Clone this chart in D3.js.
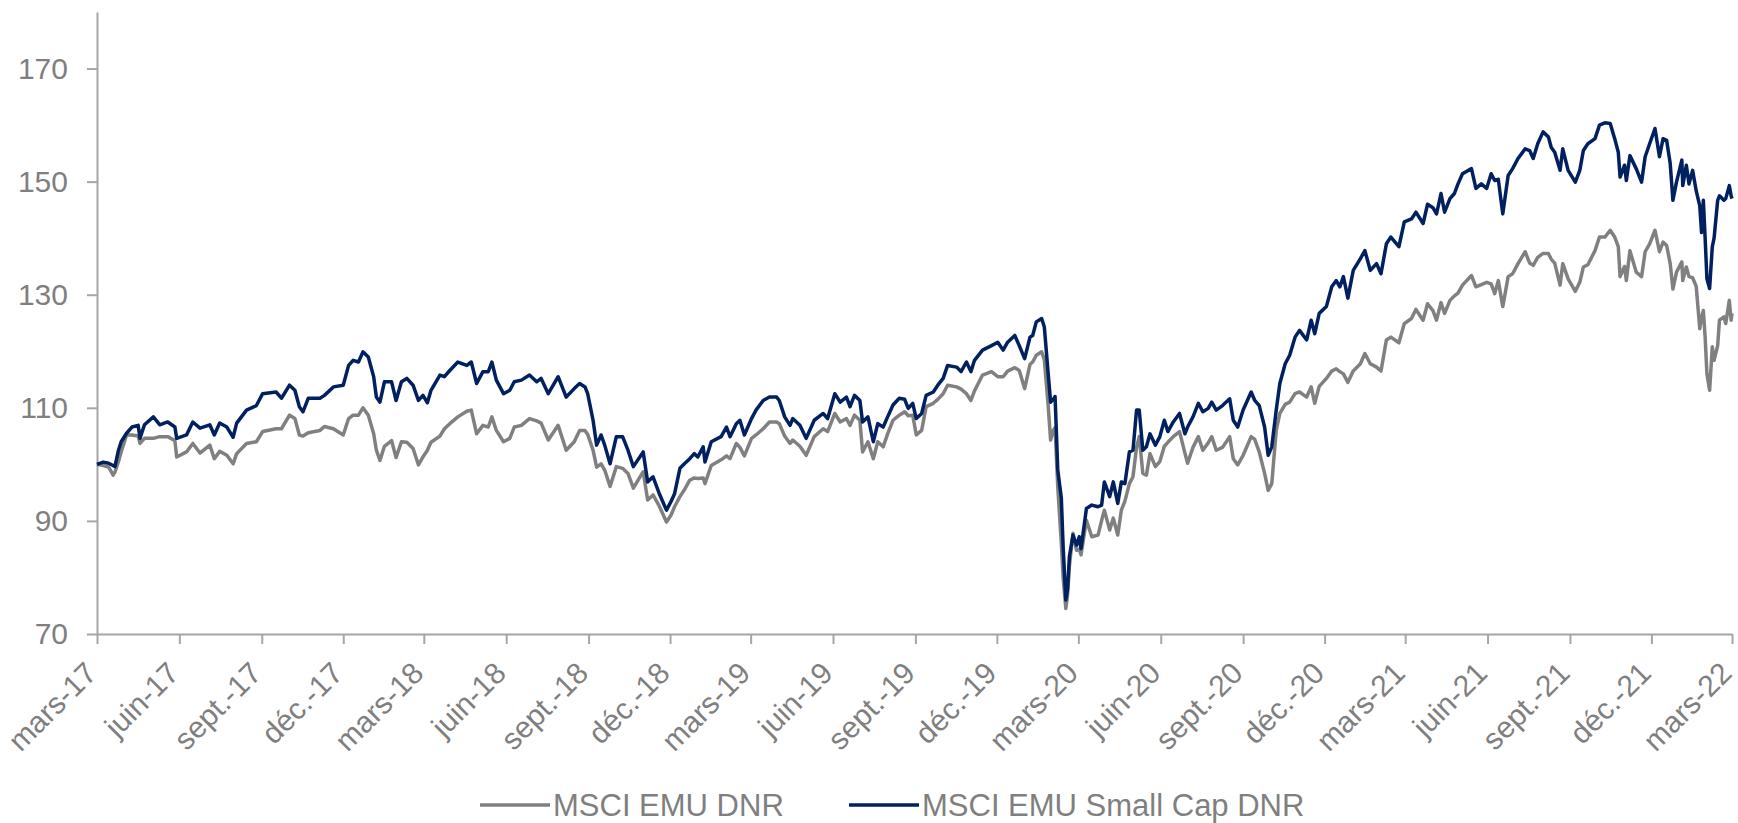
<!DOCTYPE html>
<html>
<head>
<meta charset="utf-8">
<script src="https://cdn.jsdelivr.net/npm/d3@7"></script>
<style>
  body { margin: 0; background: #fff; }
  svg { display: block; }
  text { font-family: "Liberation Sans", Arial, sans-serif; }
</style>
</head>
<body>
<svg id="chart" width="1738" height="823"></svg>
<script>
// dates of the points
const dates = [
  "2017-03-01","2017-03-08","2017-03-14","2017-03-19","2017-03-21","2017-03-25","2017-03-28","2017-04-03","2017-04-09","2017-04-16",
  "2017-04-18","2017-04-23","2017-05-03","2017-05-10","2017-05-19","2017-05-27","2017-05-29","2017-06-09","2017-06-16","2017-06-24",
  "2017-07-05","2017-07-10","2017-07-16","2017-07-24","2017-07-31","2017-08-04","2017-08-15","2017-08-26","2017-09-02","2017-09-17",
  "2017-09-23","2017-10-02","2017-10-08","2017-10-13","2017-10-17","2017-10-23","2017-11-05","2017-11-10","2017-11-20","2017-12-01",
  "2017-12-07","2017-12-12","2017-12-18","2017-12-23","2017-12-29","2018-01-04","2018-01-07","2018-01-11","2018-01-16","2018-01-24",
  "2018-01-29","2018-02-04","2018-02-10","2018-02-17","2018-02-23","2018-02-28","2018-03-05","2018-03-09","2018-03-19","2018-03-24",
  "2018-03-30","2018-04-08","2018-04-18","2018-04-23","2018-04-29","2018-05-06","2018-05-12","2018-05-16","2018-05-21","2018-05-29",
  "2018-06-05","2018-06-10","2018-06-18","2018-06-27","2018-07-05","2018-07-10","2018-07-18","2018-07-29","2018-08-07","2018-08-16",
  "2018-08-22","2018-08-28","2018-08-31","2018-09-06","2018-09-10","2018-09-15","2018-09-19","2018-09-25","2018-10-02","2018-10-09",
  "2018-10-15","2018-10-21","2018-11-01","2018-11-06","2018-11-12","2018-11-19","2018-11-27","2018-12-02","2018-12-06","2018-12-12",
  "2018-12-17","2018-12-23","2018-12-28","2019-01-01","2019-01-07","2019-01-09","2019-01-16","2019-01-27","2019-02-02","2019-02-06",
  "2019-02-13","2019-02-17","2019-02-22","2019-03-02","2019-03-07","2019-03-15","2019-03-22","2019-03-30","2019-04-02","2019-04-08",
  "2019-04-14","2019-04-17","2019-04-25","2019-05-02","2019-05-11","2019-05-21","2019-05-26","2019-06-03","2019-06-09","2019-06-16",
  "2019-06-20","2019-06-25","2019-07-01","2019-07-04","2019-07-10","2019-07-16","2019-07-21","2019-07-27","2019-08-01","2019-08-07",
  "2019-08-14","2019-08-20","2019-08-24","2019-08-29","2019-09-02","2019-09-08","2019-09-13","2019-09-21","2019-09-26","2019-10-02",
  "2019-10-07","2019-10-17","2019-10-22","2019-10-28","2019-11-02","2019-11-06","2019-11-15","2019-11-25","2019-12-02","2019-12-08",
  "2019-12-13","2019-12-21","2019-12-26","2020-01-01","2020-01-07","2020-01-10","2020-01-14","2020-01-20","2020-01-23","2020-01-27",
  "2020-01-30","2020-02-02","2020-02-04","2020-02-07","2020-02-11","2020-02-13","2020-02-16","2020-02-18","2020-02-20","2020-02-24",
  "2020-02-28","2020-03-02","2020-03-04","2020-03-10","2020-03-16","2020-03-23","2020-03-27","2020-03-30","2020-04-05","2020-04-09",
  "2020-04-14","2020-04-18","2020-04-22","2020-04-27","2020-05-01","2020-05-05","2020-05-08","2020-05-12","2020-05-16","2020-05-20",
  "2020-05-26","2020-05-31","2020-06-05","2020-06-09","2020-06-15","2020-06-22","2020-06-28","2020-07-01","2020-07-07","2020-07-13",
  "2020-07-18","2020-07-24","2020-07-28","2020-08-02","2020-08-09","2020-08-17","2020-08-21","2020-08-26","2020-09-01","2020-09-10",
  "2020-09-14","2020-09-19","2020-09-25","2020-09-29","2020-10-03","2020-10-08","2020-10-12","2020-10-18","2020-10-23","2020-10-29",
  "2020-11-03","2020-11-11","2020-11-16","2020-11-20","2020-11-25","2020-12-03","2020-12-09","2020-12-14","2020-12-18","2020-12-22",
  "2020-12-27","2021-01-02","2021-01-10","2021-01-15","2021-01-21","2021-01-28","2021-02-02","2021-02-08","2021-02-13","2021-02-22",
  "2021-02-28","2021-03-08","2021-03-13","2021-03-21","2021-03-26","2021-04-01","2021-04-05","2021-04-10","2021-04-14","2021-04-20",
  "2021-04-25","2021-04-29","2021-05-04","2021-05-14","2021-05-19","2021-05-25","2021-05-31","2021-06-05","2021-06-09","2021-06-13",
  "2021-06-18","2021-06-24","2021-06-29","2021-07-05","2021-07-13","2021-07-18","2021-07-22","2021-07-27","2021-08-02","2021-08-08",
  "2021-08-11","2021-08-15","2021-08-21","2021-08-24","2021-08-30","2021-09-07","2021-09-12","2021-09-16","2021-09-21","2021-09-29",
  "2021-10-04","2021-10-10","2021-10-16","2021-10-21","2021-10-25","2021-10-27","2021-11-01","2021-11-03","2021-11-07","2021-11-14",
  "2021-11-20","2021-11-24","2021-11-29","2021-12-05","2021-12-10","2021-12-14","2021-12-18","2021-12-22","2021-12-25","2021-12-29",
  "2022-01-04","2022-01-05","2022-01-09","2022-01-12","2022-01-16","2022-01-20","2022-01-24","2022-01-26","2022-01-28","2022-01-30",
  "2022-02-01","2022-02-04","2022-02-07","2022-02-09","2022-02-13","2022-02-15","2022-02-20","2022-02-22","2022-02-26","2022-02-28",
  "2022-03-01"
];

// MSCI EMU DNR (grey)
const msciEmu = [
  100,99.8,99.5,98.1,98.6,100.5,102.2,105.2,105.2,105,
  103.7,104.6,104.6,104.9,104.9,104.2,101.3,102.2,103.7,102,
  103.4,101,102.3,101.6,100.1,101.9,103.7,104,105.8,106.3,
  106.3,108.7,108.1,105.2,105,105.6,106,106.7,106.3,105.2,
  108.1,108.7,108.7,110,108.7,105.4,102.5,100.7,103.2,104.2,
  101.2,104,103.9,102.8,99.9,101.3,102.5,103.9,105,106.3,
  107.2,108.4,109.4,109.6,105.4,106.9,106.6,108.4,106,104,
  104.6,106.6,106.9,108.1,107.7,107.3,104.3,106.9,102.5,104,
  106,106,105.3,102.5,99.5,100.1,99,96.1,99.6,99.3,
  98.4,95.8,98.7,93.7,94.6,92.6,89.8,91,92.5,94.3,
  95.5,97.2,97.6,97.5,97.6,96.6,99.8,100.8,101.5,101,
  103.7,103,101.5,104.6,105.2,106.3,107.5,107.5,107.2,105,
  103.7,104.3,103.2,101.6,104.9,106.3,105.8,109,107.5,108.1,
  106.9,108.7,107.8,102.2,104,101,104,103.1,105.4,107.8,
  108.7,109.3,108.6,108.7,105.2,106,110.2,110.8,111.5,112.5,
  114,113.7,113.3,112.5,111.3,113,115.8,116.4,115.5,115.5,
  116.5,117.1,116.6,113.4,117.7,118.1,119.3,119.9,118.5,111,
  104.3,106,106.5,96,86,80,74.5,77,82,87.8,
  84.8,85,84,90.1,87.2,87.5,90.1,91.9,88.4,90.5,
  87.5,91.9,93.5,96.6,97.8,103,104.9,98.4,98.1,101.9,
  99.6,100.5,103.2,103.9,104.9,105.8,102,100.2,103,104.9,
  102.5,103.8,104.9,102.5,103,104.9,101,99.9,101.6,104.9,
  104.4,102.2,98.4,95.4,96.6,106,109,110.6,111,112.5,
  112.8,111.9,113.7,110.8,113.8,115.2,116.5,116.9,116.4,116,
  114.5,116.5,117.8,119.6,117.8,117.2,116.5,122,122.5,121.5,
  124.9,125.8,127.4,125.5,128.4,127.2,125.5,128.6,126.7,129,
  129.8,130.3,131.7,133.4,131.4,131.8,132.2,131.9,130.2,132.5,
  127.9,133.2,133.7,135.5,137.6,135.6,135.2,136.6,137.3,137.3,
  136.3,135.6,131.7,135.5,132.8,130.6,132.2,134.9,135.3,137.8,
  140.2,140.2,141.4,140.2,138.5,133.2,135,132.5,137.8,134,
  133.2,137.6,139,141.4,137.6,139.3,138.7,135.5,131,134,
  135.8,132.5,134.9,133.2,133,131.5,124,126,127.2,122.5,
  116,113.1,120.8,118.4,121,125.5,126.1,124.9,129,125.5,
  126.7
];

// MSCI EMU Small Cap DNR (navy)
const msciEmuSmallCap = [
  100,100.4,100.2,99.8,99.6,102.5,104,105.5,106.6,106.9,
  104.6,107,108.4,107,107.5,106.6,104.6,105.2,107.5,106.4,
  107,105.2,107.3,106.6,104.8,107.3,109.6,110.4,112.5,112.8,
  111.7,114,113.1,110.2,109.3,111.7,111.7,112.2,113.7,114,
  117.5,118.4,118.1,119.9,119,115.5,111.9,111,114.6,114.6,
  111.3,114.6,115.2,114,111.3,112.2,110.9,113.1,115.8,115.5,
  116.6,118.1,117.5,118.1,114.3,116.4,116.4,118.1,114.9,112.5,
  113.1,114.6,114.9,115.8,114.6,115.2,112.5,115.5,111.9,113.4,
  114.3,113.7,112.5,107.8,103.4,105.2,103.4,100.1,104.9,104.9,
  102.5,99.6,102.2,96.9,97.8,94.8,91.9,93.4,94.8,99.3,
  100.1,101,101.9,101.3,103.1,100.4,104,104.9,106.6,104.9,
  107.2,107.8,105.2,108.1,109.6,111.3,111.9,111.9,111.3,108.4,
  106.9,108.1,106.9,104.6,107.8,109,108.1,112.5,111,111.9,
  110.2,112.2,111.3,107.5,108.4,104,107.2,106.6,108.4,110.5,
  111.7,111.5,109.9,110.8,108.1,109,112.2,112.8,114,115.2,
  117.5,117.2,116.4,118.1,116.4,118.4,120.2,121,121.6,120.2,
  121.6,122.8,121,118.7,122.5,122.8,125.2,125.8,124.3,116.6,
  111,111.5,112,99,94,85.4,76,78,83.7,87.5,
  85.7,87.2,85.1,92.2,92.8,92.5,92.8,96.9,94.3,96.9,
  93.1,96.9,96.6,102.2,102.5,109.6,109.6,102.5,103.1,105.4,
  103.4,104.9,107.8,105.8,107.5,109,105.4,106.6,108.4,110.8,
  109.3,109.9,111,109.6,110.4,111.6,107.8,106.6,109.6,112.8,
  111.3,110.4,106.6,101.6,103.1,109.6,114.3,117.8,119.3,122.5,
  123.7,122,125.5,123.1,126.7,127.9,131.4,132.5,131.4,133.2,
  129.4,134.3,136.4,137.8,134.3,135.5,133.7,139,140.2,138.5,
  142.9,143.4,144.6,142.6,146,145.4,144.3,147.9,144.6,147,
  147.9,149.6,151.4,152.3,148.8,149.6,148.8,151.4,150.2,150.4,
  144.3,151.1,152.3,154.1,155.8,155.5,154.1,156.7,158.8,157.9,
  156.1,155.2,152,155.8,152,149.9,152,155.5,156.7,157.6,
  160,160.4,160.3,157.6,155.2,150.8,152.9,150.2,154.6,152.3,
  149.9,154.4,156.7,159.4,154.4,157.6,157.3,153.2,146.7,149.9,
  153.8,149.3,152.9,149.6,152,148.4,145.7,141,146.7,140,
  132.8,131.1,138.5,140,146.7,147.5,146.7,147,149.3,147.5,
  147
];

const yTicks = [70, 90, 110, 130, 150, 170];
const xTickLabels = [
  "mars-17","juin-17","sept.-17","déc.-17",
  "mars-18","juin-18","sept.-18","déc.-18",
  "mars-19","juin-19","sept.-19","déc.-19",
  "mars-20","juin-20","sept.-20","déc.-20",
  "mars-21","juin-21","sept.-21","déc.-21",
  "mars-22"
];
const seriesNames = ["MSCI EMU DNR", "MSCI EMU Small Cap DNR"];
const seriesColors = ["#808080", "#002060"];

const svg = d3.select("#chart");
const parse = d3.utcParse("%Y-%m-%d");
const start = parse("2017-03-01");
const end = parse("2022-03-01");

const x = d3.scaleUtc().domain([start, end]).range([97, 1732]);
const y = d3.scaleLinear().domain([70, 180]).range([634, 12]);

const axisColor = "#a6a6a6";
const labelColor = "#7f7f7f";

// y axis
const gy = svg.append("g")
  .attr("transform", "translate(97,0)")
  .call(d3.axisLeft(y).tickValues(yTicks).tickSize(10).tickSizeOuter(0).tickPadding(19));
gy.select(".domain").attr("stroke", axisColor).attr("stroke-width", 2);
gy.selectAll(".tick line").attr("stroke", axisColor).attr("stroke-width", 2);
gy.selectAll(".tick text")
  .attr("fill", labelColor)
  .style("font-size", "30px")
  .style("font-family", "'Liberation Sans', Arial, sans-serif");

// x axis, one tick every quarter starting at march 2017
const tickDates = d3.utcMonth.range(start, d3.utcDay.offset(end, 1), 3);
const gx = svg.append("g")
  .attr("transform", "translate(0,634)")
  .call(d3.axisBottom(x).tickValues(tickDates).tickSize(10).tickSizeOuter(0)
    .tickFormat((d, i) => xTickLabels[i]));
gx.select(".domain").attr("stroke", axisColor).attr("stroke-width", 2);
gx.selectAll(".tick line").attr("stroke", axisColor).attr("stroke-width", 2);
gx.selectAll(".tick text")
  .attr("fill", labelColor)
  .attr("y", null)
  .attr("dy", null)
  .attr("text-anchor", "end")
  .attr("transform", "translate(1,41) rotate(-45)")
  .style("font-size", "30px")
  .style("font-family", "'Liberation Sans', Arial, sans-serif");

// lines
const series = [msciEmu, msciEmuSmallCap];
const line = d3.line()
  .x((d, i) => x(parse(dates[i])))
  .y(d => y(d));

series.forEach((vals, k) => {
  svg.append("path")
    .datum(vals)
    .attr("fill", "none")
    .attr("stroke", seriesColors[k])
    .attr("stroke-width", 3.5)
    .attr("stroke-linejoin", "round")
    .attr("d", line);
});

// legend
const legendX = [480, 849];
const legend = svg.append("g").attr("transform", "translate(0,805)");
seriesNames.forEach((name, k) => {
  legend.append("line")
    .attr("x1", legendX[k]).attr("x2", legendX[k] + 70)
    .attr("y1", 0).attr("y2", 0)
    .attr("stroke", seriesColors[k])
    .attr("stroke-width", 3.5);
  legend.append("text")
    .attr("x", legendX[k] + 73)
    .attr("y", 0)
    .attr("dy", "0.36em")
    .attr("fill", labelColor)
    .style("font-size", "31px")
    .text(name);
});
</script>
</body>
</html>
